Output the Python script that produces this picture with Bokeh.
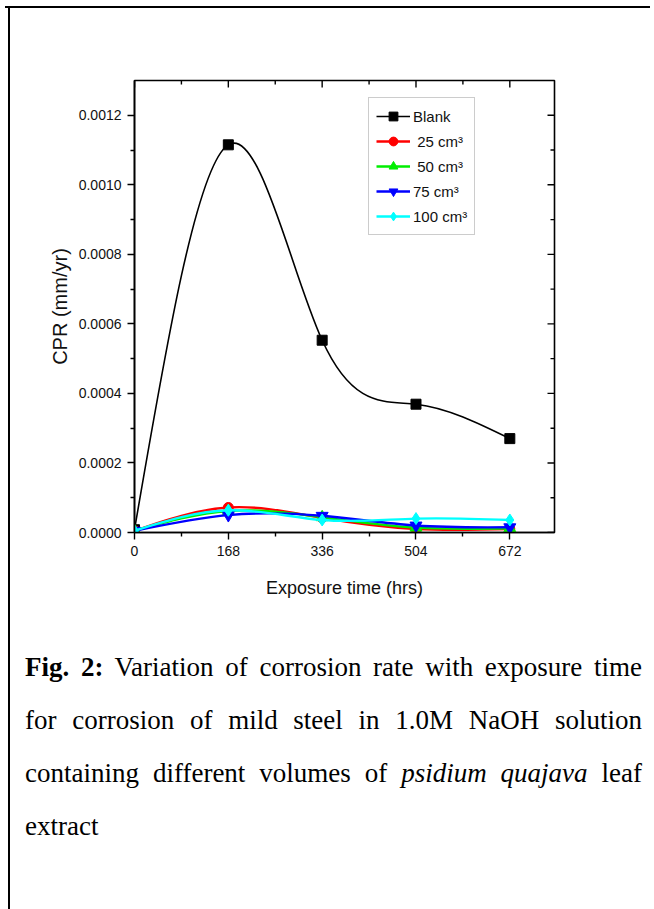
import numpy as np
from bokeh.plotting import figure
from bokeh.models import (FixedTicker, PrintfTickFormatter, LinearAxis, Legend,
                          LegendItem, Div, Spacer, Range1d)
from bokeh.layouts import column, row
from bokeh.embed import file_html
from bokeh.resources import INLINE

# ---------------- data ----------------
hours = [0, 168, 336, 504, 672]
blank = [0.000008, 0.001115, 0.000553, 0.000369, 0.000270]
vol25 = [0.000005, 0.000072, 0.000042, 0.000010, 0.000010]
vol50 = [0.000005, 0.000062, 0.000044, 0.000014, 0.000012]
vol75 = [0.000005, 0.000050, 0.000048, 0.000020, 0.000015]
vol100 = [0.000005, 0.000064, 0.000036, 0.000040, 0.000036]
series_labels = ["Blank", " 25 cm³", " 50 cm³", "75 cm³", "100 cm³"]
series_colors = ["#000000", "#ff0000", "#00ee00", "#0000ff", "#00ffff"]
series_markers = ["square", "circle", "triangle", "inverted_triangle", "diamond"]
x_ticks = [0, 168, 336, 504, 672]
x_minor = [84, 252, 420, 588]
y_ticks = [0.0, 0.0002, 0.0004, 0.0006, 0.0008, 0.0010, 0.0012]
y_minor = [0.0001, 0.0003, 0.0005, 0.0007, 0.0009, 0.0011]
x_title = "Exposure time (hrs)"
y_title = "CPR (mm/yr)"
caption_lines = [
    "<b>Fig. 2:</b> Variation of corrosion rate with exposure time",
    "for corrosion of mild steel in 1.0M NaOH solution",
    "containing different volumes of <i>psidium quajava</i> leaf",
    "extract",
]

FONT = "Liberation Sans"
X_MAX = 752
Y_MAX = 0.0013


def spline_bezier(x, y):
    """Natural cubic spline through the data, expressed as cubic Bezier segments."""
    x = np.asarray(x, float)
    y = np.asarray(y, float)
    n = len(x)
    h = np.diff(x)
    A = np.zeros((n, n))
    b = np.zeros(n)
    A[0, 0] = 1
    A[-1, -1] = 1
    for i in range(1, n - 1):
        A[i, i - 1] = h[i - 1]
        A[i, i] = 2 * (h[i - 1] + h[i])
        A[i, i + 1] = h[i]
        b[i] = 3 * ((y[i + 1] - y[i]) / h[i] - (y[i] - y[i - 1]) / h[i - 1])
    c = np.linalg.solve(A, b)
    m = np.zeros(n)
    for i in range(n - 1):
        m[i] = (y[i + 1] - y[i]) / h[i] - h[i] * (2 * c[i] + c[i + 1]) / 3
    m[-1] = m[-2] + (c[-2] + c[-1]) * h[-1]
    return dict(x0=x[:-1], y0=y[:-1], x1=x[1:], y1=y[1:],
                cx0=x[:-1] + h / 3, cy0=y[:-1] + m[:-1] * h / 3,
                cx1=x[1:] - h / 3, cy1=y[1:] - m[1:] * h / 3)


p = figure(width=644, height=620, x_range=Range1d(0, X_MAX), y_range=Range1d(0, Y_MAX),
           output_backend="svg", toolbar_location=None,
           min_border_left=124, min_border_right=100, min_border_top=72, min_border_bottom=96,
           x_axis_location=None, y_axis_location=None)
p.grid.visible = False
p.outline_line_color = "black"
p.outline_line_width = 1.6
p.outline_line_alpha = 1.0
p.background_fill_color = "white"
p.border_fill_color = "white"


def style_axis(ax, ticker):
    ax.ticker = ticker
    ax.axis_line_width = 1.6
    ax.axis_line_color = "black"
    ax.major_tick_line_width = 1.4
    ax.minor_tick_line_width = 1.4
    ax.major_tick_in, ax.major_tick_out = 0, 7
    ax.minor_tick_in, ax.minor_tick_out = 0, 4
    ax.major_label_text_font = FONT
    ax.major_label_text_font_size = "14px"
    ax.major_label_text_color = "#111111"
    ax.axis_label_text_font = FONT
    ax.axis_label_text_font_style = "normal"
    ax.axis_label_text_color = "#111111"


xb = LinearAxis(axis_label=x_title)
style_axis(xb, FixedTicker(ticks=x_ticks, minor_ticks=x_minor))
xb.major_label_standoff = 6
xb.axis_label_standoff = 19
xb.axis_label_text_font_size = "18px"
p.add_layout(xb, "below")

yl = LinearAxis(axis_label=y_title, formatter=PrintfTickFormatter(format="%.4f"))
style_axis(yl, FixedTicker(ticks=y_ticks, minor_ticks=y_minor))
yl.major_label_standoff = 6
yl.axis_label_standoff = 5
yl.axis_label_text_font_size = "20px"
p.add_layout(yl, "left")

# mirrored inward ticks on the top and right edges of the frame
p.ray(x=x_ticks, y=[Y_MAX] * len(x_ticks), length=7, length_units="screen",
      angle=-np.pi / 2, line_color="black", line_width=1.4)
p.ray(x=x_minor, y=[Y_MAX] * len(x_minor), length=4, length_units="screen",
      angle=-np.pi / 2, line_color="black", line_width=1.4)
p.ray(x=[X_MAX] * len(y_ticks), y=y_ticks, length=7, length_units="screen",
      angle=np.pi, line_color="black", line_width=1.4)
p.ray(x=[X_MAX] * len(y_minor), y=y_minor, length=4, length_units="screen",
      angle=np.pi, line_color="black", line_width=1.4)

items = []
all_series = [blank, vol25, vol50, vol75, vol100]
for vals, lab, col, mk in zip(all_series, series_labels, series_colors, series_markers):
    bz = spline_bezier(hours, vals)
    lw = 1.6 if col == "#000000" else 2.4
    r1 = p.bezier(x0=bz["x0"], y0=bz["y0"], x1=bz["x1"], y1=bz["y1"],
                  cx0=bz["cx0"], cy0=bz["cy0"], cx1=bz["cx1"], cy1=bz["cy1"],
                  line_color=col, line_width=lw)
    size = 10 if mk in ("circle", "square") else 12
    r2 = p.scatter(hours, vals, marker=mk, size=size, fill_color=col, line_color=col)
    items.append(LegendItem(label=lab, renderers=[r1, r2]))

legend = Legend(items=items, location=(234, 297))
legend.glyph_width = 34
legend.glyph_height = 22
legend.spacing = 3
legend.padding = 7
legend.margin = 0
legend.label_standoff = 3
legend.label_text_font = FONT
legend.label_text_font_size = "15px"
legend.label_text_color = "#111111"
legend.border_line_color = "#999999"
legend.border_line_width = 1.2
legend.background_fill_color = "white"
p.add_layout(legend, "center")

cap_html = "".join(
    f'<div style="height:53px; line-height:53px; white-space:nowrap; '
    f'text-align:{"justify" if i < len(caption_lines) - 1 else "left"}; '
    f'text-align-last:{"justify" if i < len(caption_lines) - 1 else "left"};">{t}</div>'
    for i, t in enumerate(caption_lines)
)
cap = Div(width=644, height=281, margin=0,
          text=f'<div style="font-family:\'Liberation Serif\'; font-size:27px; color:#000; '
               f'box-sizing:border-box; padding-top:13px; padding-left:15px; width:632px;">{cap_html}</div>')

top_line = Div(width=645, height=2, margin=0, styles={"background-color": "black"})
left_line = Div(width=2, height=901, margin=0, styles={"background-color": "black"})

layout = column(
    Spacer(width=654, height=6, margin=0),
    row(Spacer(width=5, height=2, margin=0), top_line, margin=0),
    row(Spacer(width=8, height=901, margin=0), left_line, column(p, cap, margin=0), margin=0),
    margin=0,
)

open("out.html", "w").write(file_html(layout, INLINE))
